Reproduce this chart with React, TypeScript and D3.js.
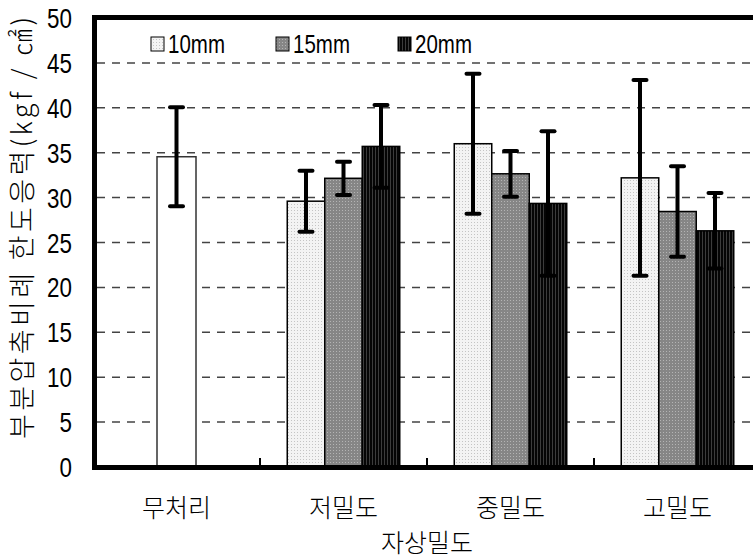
import React from 'react';
import * as d3 from 'd3';

const categories = ['무처리', '저밀도', '중밀도', '고밀도'];
const seriesNames = ['10mm', '15mm', '20mm'];
// control (무처리)
const controlMean = 34.55;
const controlSd = 5.5;
// treated groups: 저밀도, 중밀도, 고밀도
const mean10 = [29.6, 36.0, 32.2];
const sd10 = [3.4, 7.8, 10.9];
const mean15 = [32.15, 32.65, 28.45];
const sd15 = [1.85, 2.55, 5.05];
const mean20 = [35.7, 29.35, 26.3];
const sd20 = [4.6, 8.05, 4.2];
const yTicks = [0, 5, 10, 15, 20, 25, 30, 35, 40, 45, 50];

const W = 753;
const H = 558;
const left = 93;
const top = 18;
const bottom = 467;
const band = 167;

const NUM_FONT = "'Liberation Sans', Arial, sans-serif";
const KR_FONT = "'Noto Sans CJK KR', 'Noto Sans', sans-serif";

export default function App() {
  const x = d3.scaleBand<string>().domain(categories).range([left, left + band * categories.length]).padding(0);
  const y = d3.scaleLinear().domain([0, 50]).range([bottom, top]);
  const sub = d3.scaleBand<string>().domain(seriesNames).range([0, 112.5]).padding(0);
  const means = [mean10, mean15, mean20];
  const sds = [sd10, sd15, sd20];
  const fills = ['url(#p10)', 'url(#p15)', 'url(#p20)'];

  const groups = categories.slice(1);
  const bars: any[] = [];
  groups.forEach((g, gi) => {
    const cx = (x(g) as number) + x.bandwidth() / 2;
    seriesNames.forEach((s, si) => {
      const x0 = cx - 56.25 + (sub(s) as number);
      bars.push({ key: g + s, x0, w: sub.bandwidth(), v: means[si][gi], sd: sds[si][gi], fill: fills[si] });
    });
  });
  const ccx = (x(categories[0]) as number) + x.bandwidth() / 2;

  const errBar = (cx: number, v: number, sd: number, key: string) => (
    <g key={'e' + key} stroke="#000" strokeWidth={4}>
      <line x1={cx} x2={cx} y1={y(v + sd)} y2={y(v - sd)} />
      <line x1={cx - 6.5} x2={cx + 6.5} y1={y(v + sd)} y2={y(v + sd)} strokeLinecap="round" />
      <line x1={cx - 6.5} x2={cx + 6.5} y1={y(v - sd)} y2={y(v - sd)} strokeLinecap="round" />
    </g>
  );

  const legendX = [151, 276, 398];

  return (
    <svg width={W} height={H} style={{ position: 'absolute', left: 0, top: 0, display: 'block', background: '#fff' }}>
      <defs>
        <pattern id="p10" width={3} height={3} patternUnits="userSpaceOnUse">
          <rect width={3} height={3} fill="#f3f3f3" />
          <rect width={1} height={1} fill="#c4c4c4" />
        </pattern>
        <pattern id="p15" width={3} height={3} patternUnits="userSpaceOnUse">
          <rect width={3} height={3} fill="#868686" />
          <rect width={1} height={1} fill="#b4b4b4" />
        </pattern>
        <pattern id="p20" width={3} height={3} patternUnits="userSpaceOnUse">
          <rect width={3} height={3} fill="#050505" />
          <rect width={1} height={3} fill="#3c3c3c" />
        </pattern>
      </defs>

      {/* gridlines */}
      {yTicks.filter((t) => t > 0 && t < 50).map((t) => (
        <line key={'g' + t} x1={97} x2={W} y1={y(t)} y2={y(t)} stroke="#444" strokeWidth={1.5} strokeDasharray="8,7" />
      ))}

      {/* control bar */}
      <rect x={ccx - 19.5} y={y(controlMean)} width={39} height={bottom - y(controlMean)} fill="#fff" stroke="#333" strokeWidth={1.5} />
      {errBar(ccx, controlMean, controlSd, 'ctrl')}

      {/* grouped bars */}
      {bars.map((b) => (
        <rect key={b.key} x={b.x0} y={y(b.v)} width={b.w} height={bottom - y(b.v)} fill={b.fill} stroke="#000" strokeWidth={1.5} />
      ))}
      {bars.map((b) => errBar(b.x0 + b.w / 2, b.v, b.sd, b.key))}

      {/* category ticks */}
      {categories.slice(1).map((c) => (
        <line key={'t' + c} x1={x(c)} x2={x(c)} y1={bottom} y2={bottom - 9} stroke="#000" strokeWidth={2} />
      ))}

      {/* frame */}
      <line x1={92} x2={W} y1={17.5} y2={17.5} stroke="#000" strokeWidth={5} />
      <line x1={94.5} x2={94.5} y1={15} y2={470} stroke="#000" strokeWidth={5} />
      <line x1={92} x2={W} y1={467.5} y2={467.5} stroke="#000" strokeWidth={5} />

      {/* y tick labels */}
      {yTicks.map((t) => (
        <text key={'yl' + t} transform={`translate(72,${y(t)}) scale(0.8,1)`} dy="0.36em" textAnchor="end" fontFamily={NUM_FONT} fontSize={28} fill="#000">
          {t}
        </text>
      ))}

      {/* y title */}
      <text transform={`translate(32,228) rotate(-90)`} textAnchor="middle" fontFamily={KR_FONT} fontSize={27} fontWeight={300} fill="#000" textLength={422} lengthAdjust="spacing">
        부분압축비례 한도응력(kgf / ㎠)
      </text>

      {/* x labels */}
      {categories.map((c) => (
        <text key={'xl' + c} x={(x(c) as number) + x.bandwidth() / 2} y={508} dy="0.36em" textAnchor="middle" fontFamily={KR_FONT} fontSize={25} fontWeight={300} fill="#000">
          {c}
        </text>
      ))}
      <text x={427} y={543} dy="0.36em" textAnchor="middle" fontFamily={KR_FONT} fontSize={25} fontWeight={300} fill="#000">
        자상밀도
      </text>

      {/* legend */}
      {seriesNames.map((s, i) => (
        <g key={'lg' + s}>
          <rect x={legendX[i]} y={37} width={13} height={14} fill={fills[i]} stroke="#000" strokeWidth={1} />
          <text transform={`translate(${legendX[i] + 17},44) scale(0.82,1)`} dy="0.36em" fontFamily={NUM_FONT} fontSize={25} fill="#000">
            {s}
          </text>
        </g>
      ))}
    </svg>
  );
}
